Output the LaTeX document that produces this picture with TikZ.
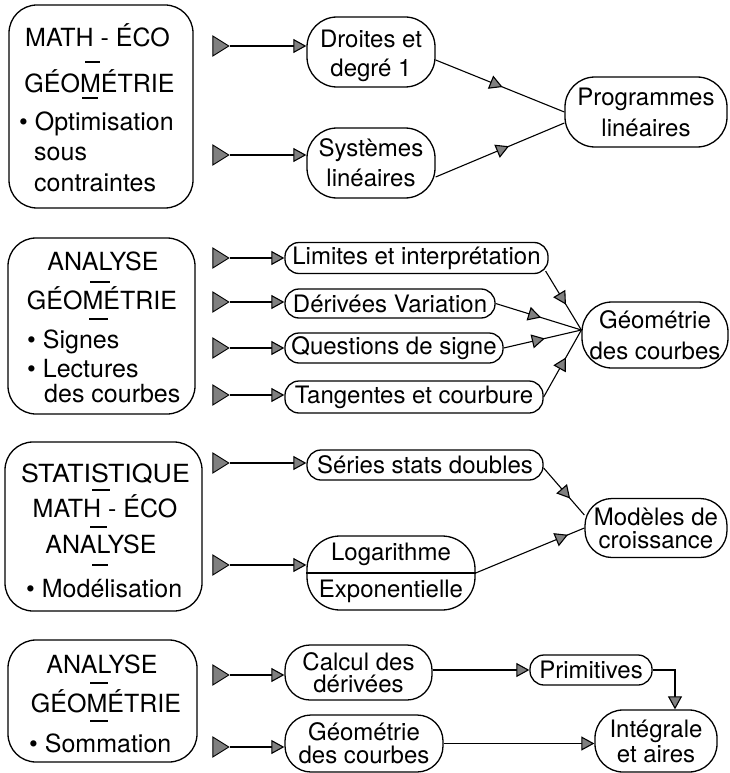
\documentclass[tikz,border=0pt]{standalone}
\usepackage{fontspec}
\setmainfont{TeX Gyre Heros}
\usetikzlibrary{arrows.meta,shapes.geometric,decorations.markings}

\begin{document}
\begin{tikzpicture}[x=1pt,y=-1pt,
  every node/.style={inner sep=0pt},
  frame/.style={draw, line width=1.3pt, rounded corners=28pt},
  txt/.style={anchor=base, font=\fontsize{25}{30}\selectfont},
  txtl/.style={anchor=base west, font=\fontsize{25}{30}\selectfont},
  sepline/.style={line width=1.1pt},
  topic/.style={draw, line width=1.3pt, rounded corners=14pt, align=center,
    font=\fontsize{24}{30}\selectfont},
  srctri/.style={isosceles triangle, isosceles triangle stretches, draw,
    fill=black!50, line width=0.9pt, minimum width=20pt, minimum height=16pt,
    anchor=apex},
  feed/.style={line width=1.1pt, -{Triangle[width=14pt,length=13pt,fill=black!50]}},
  link/.style={line width=1.1pt, postaction={decorate},
    decoration={markings, mark=at position #1 with
      {\arrow{Triangle[width=14pt,length=13pt,fill=black!50]}}}},
]
\useasboundingbox (0,0) rectangle (729,773);

% ---------- block 1 ----------
\node[frame, minimum width=184pt, minimum height=203pt] (b1) at (101,106.5) {};
\node[txt] (b1a) at (97.5,47) {MATH - ÉCO};
\node[txt] (b1b) at (99.5,93) {GÉOMÉTRIE};
\node[txtl] (b1c) at (19,130) {\textbullet\ Optimisation};
\node[txtl] (b1d) at (34,160) {sous};
\node[txtl] (b1e) at (34,191) {contraintes};
\draw[sepline] (85,62) -- (100,62);
\draw[sepline] (82,98) -- (98,98);

\node[srctri] (s1) at (230,46) {};
\node[srctri] (s2) at (230,155) {};

\node[topic, rounded corners=30pt, minimum width=128pt, minimum height=70pt,
  font=\fontsize{24}{29}\selectfont] (d1) at (371,52) {\rule{0pt}{26pt}Droites et\\degré 1};
\node[topic, rounded corners=30pt, minimum width=128pt, minimum height=70pt] (sy) at (371,163) {Systèmes\\linéaires};
\node[topic, rounded corners=30pt, minimum width=162pt, minimum height=70pt,
  font=\fontsize{24}{31}\selectfont] (p1) at (646,112) {Programmes\\linéaires};

\draw[feed] (s1.apex) -- (s1.apex -| d1.west);
\draw[feed] (s2.apex) -- (s2.apex -| sy.west);
\draw[link=0.52] ([yshift=-8pt]d1.east) -- (p1.west);
\draw[link=0.57] ([yshift=-14pt]sy.east) -- ([yshift=-11pt]p1.west);

% ---------- block 2 ----------
\node[frame, minimum width=187pt, minimum height=176pt] (b2) at (101.5,326) {};
\node[txt] (b2a) at (103,270) {ANALYSE};
\node[txt] (b2b) at (102,309) {GÉOMÉTRIE};
\node[txtl] (b2c) at (27,348) {\textbullet\ Signes};
\node[txtl] (b2d) at (27,377) {\textbullet\ Lectures};
\node[txtl] (b2e) at (44,402) {des courbes};
\draw[sepline] (90,282) -- (110,282);
\draw[sepline] (89,319) -- (108,319);

\node[srctri] (s3) at (230,258) {};
\node[srctri] (s4) at (230,302) {};
\node[srctri] (s5) at (230,348) {};
\node[srctri] (s6) at (230,395) {};

\node[topic, minimum width=263pt, minimum height=31pt] (lim) at (416.5,258) {Limites et interprétation};
\node[topic, minimum width=210pt, minimum height=29pt] (der) at (390,303.5) {Dérivées Variation};
\node[topic, minimum width=218pt, minimum height=30pt] (que) at (394,348) {Questions de signe};
\node[topic, minimum width=258pt, minimum height=32pt] (tan) at (414,397) {Tangentes et courbure};
\node[topic, rounded corners=30pt, minimum width=146pt, minimum height=66pt,
  font=\fontsize{24}{31}\selectfont] (geo) at (655,335) {Géométrie\\des courbes};

\draw[feed] (s3.apex) -- (s3.apex -| lim.west);
\draw[feed] (s4.apex) -- (s4.apex -| der.west);
\draw[feed] (s5.apex) -- (s5.apex -| que.west);
\draw[feed] (s6.apex) -- (s6.apex -| tan.west);
\coordinate (geoin) at ([yshift=5pt]geo.west);
\draw[link=0.57] ([xshift=-3pt,yshift=3pt]lim.south east) -- (geoin);
\draw[link=0.53] (der.east) -- (geoin);
\draw[link=0.53] (que.east) -- (geoin);
\draw[link=0.59] (tan.east) -- (geoin);

% ---------- block 3 ----------
\node[frame, minimum width=197pt, minimum height=169pt] (b3) at (103.5,526.5) {};
\node[txt] (b3a) at (105.5,482) {\scalebox{1.07}[1]{STATISTIQUE}};
\node[txt] (b3b) at (105,517) {MATH - ÉCO};
\node[txt] (b3c) at (101,553) {ANALYSE};
\node[txtl] (b3d) at (26,597) {\textbullet\ Modélisation};
\draw[sepline] (92,490) -- (110,490);
\draw[sepline] (90,527) -- (107,527);
\draw[sepline] (92,565) -- (108,565);

\node[srctri] (s7) at (230,463) {};
\node[srctri] (s8) at (230,565) {};

\node[topic, minimum width=236pt, minimum height=30pt] (ser) at (425,465) {Séries stats doubles};
\node[topic, rounded corners=33pt, minimum width=168pt, minimum height=74pt,
  font=\fontsize{24}{37}\selectfont] (log) at (391,573) {Logarithme\\Exponentielle};
\draw[line width=1.3pt] (log.west) -- (log.east);
\node[topic, rounded corners=27pt, minimum width=142pt, minimum height=59pt,
  font=\fontsize{24}{23}\selectfont] (mod) at (656,528) {Modèles de\\croissance};

\draw[feed] (s7.apex) -- (s7.apex -| ser.west);
\draw[feed] (s8.apex) -- (s8.apex -| log.west);
\draw[link=0.65] ([yshift=-3pt]ser.east) -- ([yshift=13pt]mod.west);
\draw[link=0.85] (log.east) -- (mod.west);

% ---------- block 4 ----------
\node[frame, minimum width=189pt, minimum height=122pt] (b4) at (102.5,701) {};
\node[txt] (b4a) at (102,673) {ANALYSE};
\node[txt] (b4b) at (106,712) {GÉOMÉTRIE};
\node[txtl] (b4c) at (29,752) {\textbullet\ Sommation};
\draw[sepline] (90,683) -- (108,683);
\draw[sepline] (90,721) -- (108,721);

\node[srctri] (s9) at (230,675) {};
\node[srctri] (s10) at (230,747) {};

\node[topic, rounded corners=25pt, minimum width=147pt, minimum height=55pt,
  font=\fontsize{24}{22}\selectfont] (cal) at (358.5,672.5) {Calcul des\\dérivées};
\node[topic, rounded corners=26pt, minimum width=158pt, minimum height=57pt,
  font=\fontsize{24}{23}\selectfont] (gc) at (364,743.5) {Géométrie\\des courbes};
\node[topic, minimum width=122pt, minimum height=30pt] (pri) at (591,670) {Primitives};
\node[topic, rounded corners=28pt, minimum width=122pt, minimum height=62pt,
  font=\fontsize{24}{25}\selectfont] (int) at (656,741) {Intégrale\\et aires};

\draw[feed] (s9.apex) -- (s9.apex -| cal.west);
\draw[feed] (s10.apex) -- (s10.apex -| gc.west);
\draw[feed] (cal.east |- pri.west) -- (pri.west);
\draw[feed] (pri.east) -| ([xshift=19pt]int.north);
\draw[feed] (gc.east) -- (gc.east -| int.west);
\end{tikzpicture}
\end{document}
